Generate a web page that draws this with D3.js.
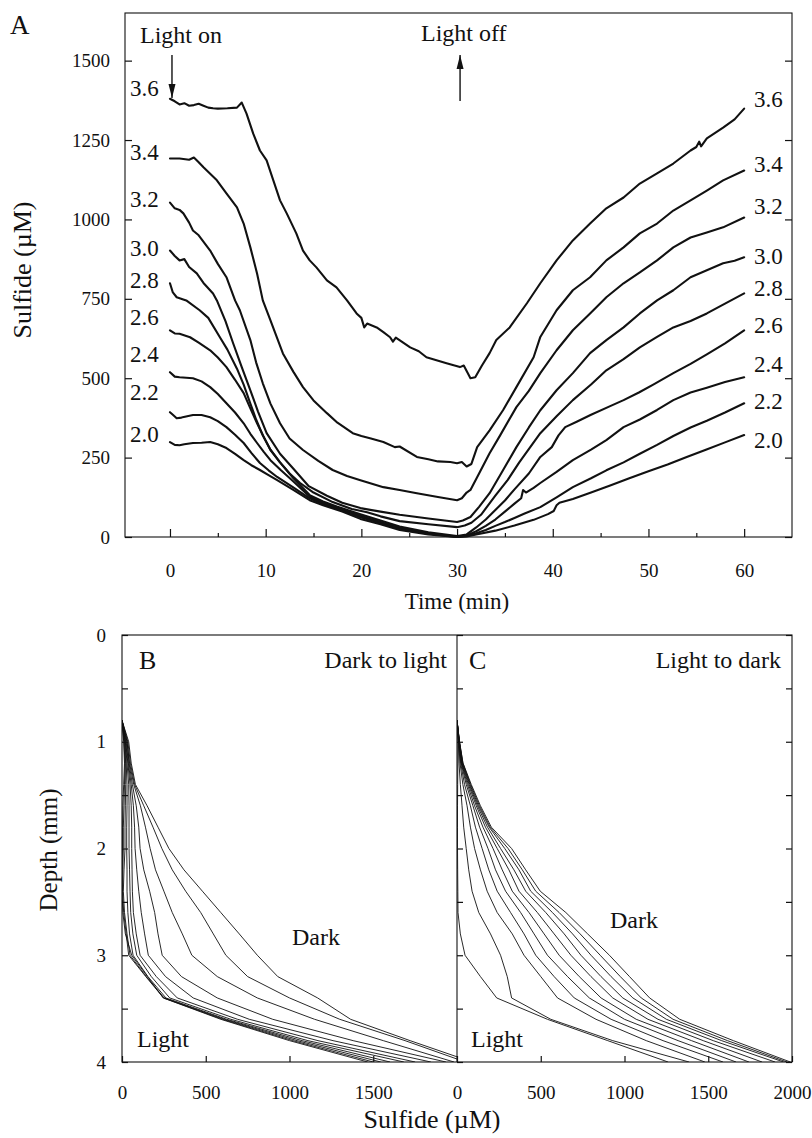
<!DOCTYPE html>
<html><head><meta charset="utf-8">
<script src="https://cdn.jsdelivr.net/npm/d3@7"></script>
<style>
body{margin:0;background:#fff;}
svg{display:block;}
text{font-family:"Liberation Serif","Times New Roman",serif;fill:#111;}
</style>
</head><body>
<svg id="chart" width="812" height="1138"></svg>
<script>
// ---------------- Panel A data: sulfide (µM) vs time (min) at depths (mm)
const depthLabels = ["3.6","3.4","3.2","3.0","2.8","2.6","2.4","2.2","2.0"];
const c36 = [[0,1380],[0.5,1372],[1,1362],[1.5,1366],[2,1358],[2.5,1360],[3,1364],[3.5,1358],[4,1352],[4.5,1350],[5,1349],[6,1350],[7,1352],[7.5,1368],[8,1333],[8.7,1270],[9.4,1217],[10.1,1186],[10.8,1123],[11.5,1060],[12.2,1019],[13.2,956],[13.9,902],[14.6,871],[15.3,849],[16.4,808],[17.4,786],[18.5,745],[19.5,704],[20,690],[20.3,660],[20.6,672],[21.6,660],[22.3,645],[23,629],[23.3,615],[23.6,628],[25.1,597],[26,585],[26.8,566],[27.5,560],[28.9,547],[30.3,535],[30.7,540],[31.4,500],[31.9,503],[32.6,540],[33.4,579],[34.1,620],[35.5,660],[37.3,736],[38.7,799],[40.4,871],[42.1,934],[43.9,987],[45.6,1035],[47.4,1069],[49.1,1113],[50.9,1145],[52.6,1176],[54.4,1217],[55,1228],[55.3,1245],[55.5,1230],[56.1,1255],[57.8,1289],[59,1315],[60,1349]];
const c34 = [[0,1192],[1,1192],[2,1188],[2.5,1195],[3,1180],[3.5,1164],[4.9,1123],[5.9,1082],[7,1038],[7.7,987],[8.4,912],[9.1,830],[9.7,745],[10.5,682],[11.8,578],[12.9,520],[13.9,472],[15,430],[16.4,390],[17.5,360],[19.1,327],[20,318],[21,310],[22.3,299],[23.5,283],[24,285],[25.8,252],[27,245],[28,238],[29.3,236],[30,232],[30.5,236],[31,222],[31.5,230],[32.1,283],[33.4,336],[34.8,399],[36.2,472],[38,566],[38.7,630],[40.4,714],[42.1,777],[43.9,818],[45.6,871],[47.4,912],[49.1,956],[50.9,987],[52.6,1028],[54.4,1060],[56.1,1091],[57.8,1123],[60,1154]];
const c32 = [[0,1053],[0.5,1035],[1,1030],[1.4,1019],[2,990],[2.4,965],[3,950],[4.2,902],[5,860],[5.9,818],[6.8,745],[7.3,714],[8.4,620],[9,550],[9.7,484],[10.5,420],[11.5,358],[12.5,310],[13.9,274],[15.5,240],[17,211],[18.5,192],[19.9,179],[22.3,157],[24,148],[25.8,138],[28,126],[30,116],[30.5,122],[31,140],[31.4,148],[32.3,200],[33.4,264],[34.5,320],[36.2,409],[37.5,460],[38.7,516],[40.4,588],[42.1,651],[43.9,704],[45.6,755],[47.4,799],[49.1,833],[50.9,871],[52.6,912],[54.4,943],[56.1,959],[57.8,975],[60,1006]];
const c30 = [[0,902],[0.5,885],[1,871],[1.5,875],[2,850],[2.8,830],[3.5,800],[4.5,767],[4.9,745],[5.8,680],[6.6,610],[7.5,535],[8.4,462],[9.2,395],[10.1,327],[11.5,262],[12.9,215],[14.5,160],[16.4,130],[18,108],[19.9,91],[22,80],[24,70],[27,58],[30,47],[30.6,52],[31.4,63],[32.3,95],[33.4,138],[34.8,210],[36.2,283],[37.5,345],[38.7,399],[40.4,462],[42.1,516],[43.9,579],[45.6,620],[47.4,660],[49.1,704],[50.9,745],[52.6,777],[54.4,818],[56.1,840],[57.8,862],[59,870],[60,881]];
const c28 = [[0,799],[0.3,770],[0.7,755],[1.7,745],[3.1,714],[4,690],[5.2,630],[6,590],[7,530],[7.7,480],[8.4,420],[9,370],[9.7,320],[10.5,275],[11.5,235],[12.5,200],[13.6,170],[15,140],[17,110],[19,88],[20.6,78],[22,65],[24,50],[27,40],[30,31],[30.8,36],[31.5,45],[32.5,70],[34,130],[35.3,180],[36.5,235],[38.7,327],[40.4,380],[42.1,431],[44,480],[45.6,525],[47.4,560],[49.1,597],[50.9,630],[52.6,660],[54.4,680],[56.1,704],[58,735],[60,767]];
const c26 = [[0,651],[0.5,641],[1,640],[2.1,629],[3,612],[4.2,588],[5,565],[5.9,535],[6.8,495],[7.7,453],[8.4,405],[9.1,358],[9.8,315],[10.5,274],[11.5,235],[12.9,185],[14.6,132],[16,112],[17.5,95],[19.9,72],[22,52],[24,33],[27,15],[30,3],[31,8],[32,30],[33,55],[34,85],[35,115],[36,150],[37.5,200],[38.7,252],[39.9,283],[40.6,320],[41.3,346],[42.5,363],[44,385],[46,412],[47.4,431],[49,455],[50.5,480],[52.6,516],[54.4,545],[56.1,575],[58,610],[60,651]];
const c24 = [[0,519],[0.5,505],[1,503],[2.4,500],[3.3,490],[4.2,472],[5,450],[5.9,421],[6.8,392],[7.7,358],[8.4,325],[9.1,296],[9.8,268],[10.5,242],[11.6,210],[12.9,175],[14.6,127],[16,108],[18,88],[19.9,67],[22,47],[24,29],[27,12],[30,1],[31,5],[32,18],[33,35],[34,55],[35,80],[36,105],[36.7,122],[36.9,148],[37.2,140],[38,155],[38.7,170],[40.4,205],[42.1,242],[44,275],[45.6,305],[47.4,346],[49.1,370],[50.9,400],[52.6,431],[54.4,455],[56.1,470],[58,488],[60,503]];
const c22 = [[0,393],[0.3,385],[0.7,374],[1.2,376],[2.4,384],[3.3,384],[4.2,377],[5,365],[5.9,346],[6.8,322],[7.7,296],[8.5,265],[9.4,233],[10.3,210],[11.2,189],[12.8,158],[14.6,122],[16,104],[18,84],[19.9,62],[22,44],[24,26],[27,10],[30,0],[31,3],[32,12],[33,22],[34,35],[35,47],[36,60],[37,73],[38.7,94],[40.4,125],[42.1,157],[44,185],[45.6,210],[47.4,235],[49.1,262],[50.9,290],[52.6,318],[54.4,345],[56.1,366],[58,392],[60,421]];
const c20 = [[0,299],[0.5,290],[1,289],[1.5,292],[2.4,296],[3.3,297],[4.2,299],[5,292],[5.9,280],[6.8,262],[7.7,242],[8.5,226],[9.4,211],[10.3,195],[11.2,179],[12.8,150],[14.6,116],[16,100],[18,80],[19.9,57],[22,40],[24,22],[27,8],[30,0],[31,2],[32,8],[34,20],[36,36],[38,54],[39.5,72],[40.1,82],[40.4,100],[40.7,108],[42.1,120],[44,140],[46,162],[48,185],[50,207],[52,228],[54,252],[56,275],[58,298],[60,321]];
const seriesA = [c36,c34,c32,c30,c28,c26,c24,c22,c20];
const timeTicks = [0,10,20,30,40,50,60];
const sulfideTicksA = [0,250,500,750,1000,1250,1500];

// ---------------- Panels B, C: sulfide profiles (µM) at depths (mm)
const depthsMM = [0.8,1.0,1.2,1.4,1.6,1.8,2.0,2.2,2.4,2.6,2.8,3.0,3.2,3.4,3.6,3.8,4.0];
const profilesDarkToLight = [
  [0,40,55,80,150,215,280,370,480,590,700,808,930,1168,1365,1720,2090],
  [0,35,50,75,130,185,238,300,380,470,545,620,750,1000,1300,1690,2050],
  [0,30,45,70,110,140,168,200,250,300,360,417,569,808,1150,1560,1982],
  [0,30,42,62,85,100,108,130,165,195,215,240,355,569,900,1380,1934],
  [0,25,38,55,68,75,78,88,100,115,135,157,260,425,760,1260,1844],
  [0,22,35,48,55,58,58,60,62,68,85,108,205,330,690,1170,1750],
  [0,20,30,40,42,42,42,45,48,52,65,88,175,285,650,1110,1683],
  [0,18,25,30,30,28,28,30,30,35,45,66,155,262,625,1075,1600],
  [0,15,22,22,20,18,18,12,8,15,30,48,145,252,612,1045,1545],
  [0,12,18,15,12,8,8,5,3,10,25,40,142,248,600,1020,1500],
  [0,10,15,10,5,3,3,2,0,5,20,58,152,246,590,1000,1467]
];
const profilesLightToDark = [
  [0,5,5,4,3,3,3,4,5,6,20,48,140,237,540,900,1260],
  [0,8,12,20,30,40,55,70,90,130,200,260,300,326,560,930,1385],
  [0,10,18,35,60,80,105,140,180,240,330,400,500,600,830,1130,1480],
  [0,12,22,45,80,110,150,190,240,320,400,470,580,700,920,1230,1588],
  [0,12,25,55,95,135,185,230,290,380,460,540,660,790,1000,1320,1666],
  [0,13,27,62,105,155,215,270,330,430,520,610,730,860,1070,1400,1743],
  [0,13,29,68,115,170,240,310,370,480,580,680,800,930,1140,1470,1821],
  [0,14,31,73,122,182,260,340,410,530,640,740,860,990,1200,1530,1899],
  [0,14,33,77,128,192,285,370,440,570,690,800,920,1050,1250,1580,1950],
  [0,15,35,81,134,198,305,390,470,610,735,855,975,1100,1290,1615,1970],
  [0,15,36,85,140,205,326,410,497,650,780,910,1030,1150,1330,1650,1990]
];
const depthTicks = [0,0.5,1,1.5,2,2.5,3,3.5,4];
const depthLabelTicks = [0,1,2,3,4];
const sulfideTicksB = [0,500,1000,1500];
const sulfideTicksC = [0,500,1000,1500,2000];

// ---------------- Drawing
const svg = d3.select("#chart");
const ink = "#111";
const fmt = d3.format("d");

// Panel A
const xA = d3.scaleLinear().domain([-4.7,65]).range([125,792]);
const yA = d3.scaleLinear().domain([0,1650]).range([537,13]);
const gA = svg.append("g");
gA.append("rect").attr("x",125).attr("y",13).attr("width",667).attr("height",524)
  .attr("fill","none").attr("stroke",ink).attr("stroke-width",1.1);

const styleAx = g=>{
  g.select(".domain").remove();
  g.selectAll("line").attr("stroke",ink).attr("stroke-width",1.2);
  g.selectAll("text").attr("font-size",19).attr("fill",ink).attr("font-family","Liberation Serif, serif");
};

const gLA = gA.append("g").attr("transform","translate(125,0)")
  .call(d3.axisLeft(yA).tickValues(sulfideTicksA).tickSizeInner(-7).tickSizeOuter(0).tickPadding(15).tickFormat(fmt));
const gRA = gA.append("g").attr("transform","translate(792,0)")
  .call(d3.axisRight(yA).tickValues(sulfideTicksA).tickSizeInner(-7).tickSizeOuter(0).tickFormat(""));
const gBA = gA.append("g").attr("transform","translate(0,537)")
  .call(d3.axisBottom(xA).tickValues(timeTicks).tickSizeInner(-8).tickSizeOuter(0).tickPadding(27).tickFormat(fmt));
const gBAm = gA.append("g").attr("transform","translate(0,537)")
  .call(d3.axisBottom(xA).tickValues([5,15,25,35,45,55]).tickSizeInner(-4).tickSizeOuter(0).tickFormat(""));
[gLA,gRA,gBA,gBAm].forEach(styleAx);

const lineA = d3.line().x(d=>xA(d[0])).y(d=>yA(d[1]));
gA.selectAll("path.curve").data(seriesA).enter().append("path").attr("class","curve")
  .attr("d",lineA).attr("fill","none").attr("stroke",ink).attr("stroke-width",2.1)
  .attr("stroke-linejoin","round").attr("stroke-linecap","round");

// curve labels (left & right)
const leftNudge = [-11,-6,-4,-3,-3,-13,-18,-20,-8];
const rightNudge = [-10,-7,-12,-1,-5,-5,-13,-2,5];
seriesA.forEach((s,i)=>{
  gA.append("text").attr("x",130).attr("y",yA(s[0][1])+leftNudge[i]+8)
    .attr("font-size",23).text(depthLabels[i]);
  gA.append("text").attr("x",754).attr("y",yA(s[s.length-1][1])+rightNudge[i]+8)
    .attr("font-size",23).text(depthLabels[i]);
});

// Light on / off
gA.append("text").attr("x",140).attr("y",43).attr("font-size",24).text("Light on");
gA.append("text").attr("x",421).attr("y",41).attr("font-size",24).text("Light off");
const arrow = (x,y1,y2)=>{
  gA.append("line").attr("x1",x).attr("x2",x).attr("y1",y1).attr("y2",y2).attr("stroke",ink).attr("stroke-width",1.4);
  const dir = Math.sign(y2-y1);
  gA.append("path").attr("d",`M${x},${y2} L${x-3.5},${y2-dir*14} L${x+3.5},${y2-dir*14} Z`).attr("fill",ink);
};
arrow(xA(0)+2,55,98);
arrow(xA(30)+3,101,55);

gA.append("text").attr("x",10).attr("y",34).attr("font-size",27).text("A");
gA.append("text").attr("transform","translate(31,270) rotate(-90)").attr("text-anchor","middle")
  .attr("font-size",26).text("Sulfide (\u00B5M)");
gA.append("text").attr("x",457).attr("y",609).attr("text-anchor","middle").attr("font-size",23).text("Time (min)");

// Panels B and C
const yBC = d3.scaleLinear().domain([0,4]).range([635,1062]);
const xB = d3.scaleLinear().domain([0,2000]).range([122,457]);
const xC = d3.scaleLinear().domain([0,2000]).range([457,792]);

const defs = svg.append("defs");
defs.append("clipPath").attr("id","clipB").append("rect").attr("x",122).attr("y",635).attr("width",335).attr("height",427);
defs.append("clipPath").attr("id","clipC").append("rect").attr("x",457).attr("y",635).attr("width",335).attr("height",427);

function profilePanel(x, profiles, clipId){
  const g = svg.append("g").attr("clip-path",`url(#${clipId})`);
  const ln = d3.line().x(d=>x(d)).y((d,i)=>yBC(depthsMM[i]));
  g.selectAll("path").data(profiles).enter().append("path")
    .attr("d",ln).attr("fill","none").attr("stroke",ink).attr("stroke-width",0.9);
}
profilePanel(xB, profilesDarkToLight, "clipB");
profilePanel(xC, profilesLightToDark, "clipC");

svg.append("rect").attr("x",122).attr("y",635).attr("width",670).attr("height",427)
  .attr("fill","none").attr("stroke",ink).attr("stroke-width",1.1);
svg.append("line").attr("x1",457).attr("x2",457).attr("y1",635).attr("y2",1062).attr("stroke",ink).attr("stroke-width",1.1);

const gLB = svg.append("g").attr("transform","translate(122,0)")
  .call(d3.axisLeft(yBC).tickValues(depthTicks).tickSizeInner(-6).tickSizeOuter(0).tickFormat(""));
styleAx(gLB);
const gLBl = svg.append("g").attr("transform","translate(122,0)")
  .call(d3.axisLeft(yBC).tickValues(depthLabelTicks).tickSize(0).tickPadding(16).tickFormat(fmt));
styleAx(gLBl);
const gMC = svg.append("g").attr("transform","translate(457,0)")
  .call(d3.axisRight(yBC).tickValues(depthTicks).tickSizeInner(6).tickSizeOuter(0).tickFormat(""));
styleAx(gMC);
const gRC = svg.append("g").attr("transform","translate(792,0)")
  .call(d3.axisRight(yBC).tickValues(depthTicks).tickSizeInner(-6).tickSizeOuter(0).tickFormat(""));
styleAx(gRC);
const gBB = svg.append("g").attr("transform","translate(0,1062)")
  .call(d3.axisBottom(xB).tickValues(sulfideTicksB).tickSizeInner(-6).tickSizeOuter(0).tickPadding(24).tickFormat(fmt));
styleAx(gBB);
const gBC = svg.append("g").attr("transform","translate(0,1062)")
  .call(d3.axisBottom(xC).tickValues(sulfideTicksC).tickSizeInner(-6).tickSizeOuter(0).tickPadding(24).tickFormat(fmt));
styleAx(gBC);

svg.append("text").attr("x",139).attr("y",669).attr("font-size",26).text("B");
svg.append("text").attr("x",447).attr("y",668).attr("text-anchor","end").attr("font-size",24).text("Dark to light");
svg.append("text").attr("x",469).attr("y",669).attr("font-size",26).text("C");
svg.append("text").attr("x",781).attr("y",668).attr("text-anchor","end").attr("font-size",24).text("Light to dark");
svg.append("text").attr("x",292).attr("y",945).attr("font-size",24).text("Dark");
svg.append("text").attr("x",137).attr("y",1047).attr("font-size",24).text("Light");
svg.append("text").attr("x",610).attr("y",928).attr("font-size",24).text("Dark");
svg.append("text").attr("x",471).attr("y",1047).attr("font-size",24).text("Light");

svg.append("text").attr("transform","translate(57,850) rotate(-90)").attr("text-anchor","middle")
  .attr("font-size",25).text("Depth (mm)");
svg.append("text").attr("x",432).attr("y",1128).attr("text-anchor","middle").attr("font-size",26).text("Sulfide (\u00B5M)");
</script>
</body></html>
